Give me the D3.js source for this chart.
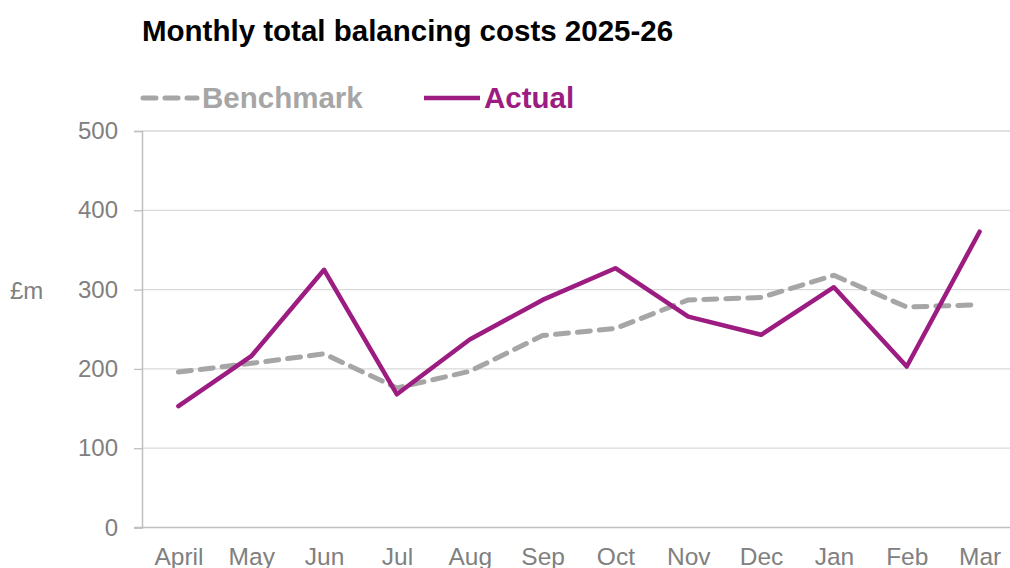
<!DOCTYPE html>
<html>
<head>
<meta charset="utf-8">
<script src="https://cdn.jsdelivr.net/npm/d3@7"></script>
<style>
  body { margin: 0; background: #fff; }
  svg { display: block; font-family: "Liberation Sans", Arial, sans-serif; }
</style>
</head>
<body>
<svg id="chart" width="1010" height="568"></svg>
<script>
const months = ['April', 'May', 'Jun', 'Jul', 'Aug', 'Sep', 'Oct', 'Nov', 'Dec', 'Jan', 'Feb', 'Mar'];
const benchmark = [196, 207, 219, 176, 197, 242, 251, 287, 290, 318, 278, 281];
const actual = [153, 216, 325, 168, 237, 287, 327, 266, 243, 303, 203, 373];
const yTicks = [0, 100, 200, 300, 400, 500];

const margin = { top: 131, right: -6, bottom: 40, left: 142 };
const width = 1010 - margin.left - margin.right;
const height = 568 - margin.top - margin.bottom;

const svg = d3.select('#chart');
const chart = svg.append('g')
    .attr('transform', `translate(${margin.left},${margin.top})`);

const x = d3.scalePoint()
    .domain(months)
    .range([0, width])
    .padding(0.5);

const y = d3.scaleLinear()
    .domain([0, 500])
    .range([height - 0.5, 0]);

// gridlines
chart.append('g')
    .selectAll('line')
    .data(yTicks.filter(d => d > 0))
    .enter().append('line')
    .attr('x1', 0)
    .attr('x2', width)
    .attr('y1', d => y(d))
    .attr('y2', d => y(d))
    .attr('stroke', '#d9d9d9')
    .attr('stroke-width', 1.3);

// y axis
const yAxis = chart.append('g')
    .call(d3.axisLeft(y).tickValues(yTicks).tickSize(8).tickPadding(16));
yAxis.select('.domain').attr('stroke', '#bfbfbf').attr('stroke-width', 1.5);
yAxis.selectAll('.tick line').attr('stroke', '#bfbfbf').attr('stroke-width', 1.3);
yAxis.selectAll('.tick text')
    .attr('fill', '#808080')
    .attr('font-size', 24)
    .attr('font-family', '"Liberation Sans", Arial, sans-serif');

// x axis
const xAxis = chart.append('g')
    .attr('transform', `translate(0,${height - 0.5})`)
    .call(d3.axisBottom(x).tickSize(0).tickPadding(20));
xAxis.select('.domain').attr('stroke', '#bfbfbf').attr('stroke-width', 1.5)
    .attr('d', `M-8,0H${width}`);
xAxis.selectAll('.tick text')
    .attr('fill', '#808080')
    .attr('font-size', 24.5)
    .attr('font-family', '"Liberation Sans", Arial, sans-serif');

// unit label
svg.append('text')
    .attr('x', 10)
    .attr('y', 299)
    .attr('fill', '#808080')
    .attr('font-size', 24)
    .text('£m');

const line = d3.line()
    .x((d, i) => x(months[i]))
    .y(d => y(d));

chart.append('path')
    .datum(benchmark)
    .attr('fill', 'none')
    .attr('stroke', '#a6a6a6')
    .attr('stroke-width', 5)
    .attr('stroke-dasharray', '13,9')
    .attr('stroke-linecap', 'round')
    .attr('stroke-linejoin', 'round')
    .attr('d', line);

chart.append('path')
    .datum(actual)
    .attr('fill', 'none')
    .attr('stroke', '#9c1c81')
    .attr('stroke-width', 4.5)
    .attr('stroke-linejoin', 'round')
    .attr('stroke-linecap', 'round')
    .attr('d', line);

// title
svg.append('text')
    .attr('x', 142)
    .attr('y', 41)
    .attr('font-size', 29.5)
    .attr('font-weight', 'bold')
    .attr('fill', '#000')
    .text('Monthly total balancing costs 2025-26');

// legend
const legend = svg.append('g');
legend.append('line')
    .attr('x1', 143).attr('x2', 197)
    .attr('y1', 98).attr('y2', 98)
    .attr('stroke', '#a6a6a6')
    .attr('stroke-width', 5)
    .attr('stroke-dasharray', '13,9')
    .attr('stroke-linecap', 'round');
legend.append('text')
    .attr('x', 202).attr('y', 108)
    .attr('font-size', 29.5)
    .attr('font-weight', 'bold')
    .attr('fill', '#a6a6a6')
    .text('Benchmark');
legend.append('line')
    .attr('x1', 424).attr('x2', 480)
    .attr('y1', 98).attr('y2', 98)
    .attr('stroke', '#9c1c81')
    .attr('stroke-width', 4.5);
legend.append('text')
    .attr('x', 484).attr('y', 108)
    .attr('font-size', 29.5)
    .attr('font-weight', 'bold')
    .attr('fill', '#9c1c81')
    .text('Actual');
</script>
</body>
</html>
